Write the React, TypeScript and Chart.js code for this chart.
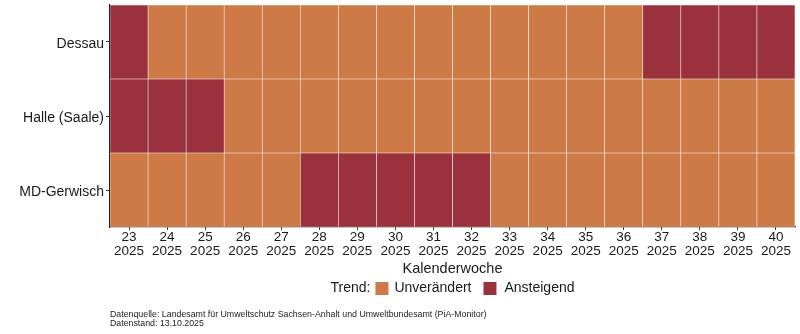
import React, { useEffect, useRef } from "react";
import { Chart, registerables } from "chart.js";

Chart.register(...registerables);

const weeks = ["23","24","25","26","27","28","29","30","31","32","33","34","35","36","37","38","39","40"];
const year = "2025";
const stations = ["MD-Gerwisch", "Halle (Saale)", "Dessau"]; // bottom to top
// 1 = Ansteigend, 0 = Unverändert
const dessau = [1,0,0,0,0,0,0,0,0,0,0,0,0,0,1,1,1,1];
const halle = [1,1,1,0,0,0,0,0,0,0,0,0,0,0,0,0,0,0];
const gerwisch = [0,0,0,0,0,1,1,1,1,1,0,0,0,0,0,0,0,0];
const trendLabels = ["Unverändert", "Ansteigend"];
const trendColors = ["#CD7A47", "#9C313E"];

const FONT = "'Liberation Sans', Arial, sans-serif";

export default function App() {
  const ref = useRef<HTMLCanvasElement>(null);
  useEffect(() => {
    const rows = [gerwisch, halle, dessau];
    const overlay = {
      id: "overlay",
      afterDraw(chart: any) {
        const ctx = chart.ctx;
        const area = chart.chartArea;
        const cx = (area.left + area.right) / 2;
        ctx.save();
        ctx.textBaseline = "middle";
        // x title
        ctx.fillStyle = "#1a1a1a";
        ctx.font = `14.5px ${FONT}`;
        ctx.textAlign = "center";
        ctx.fillText("Kalenderwoche", cx, 268.5);
        // legend
        ctx.textAlign = "left";
        ctx.font = `14px ${FONT}`;
        const parts: any[] = [{ t: "Trend:" }, { sq: trendColors[0] }, { t: trendLabels[0] }, { sq: trendColors[1] }, { t: trendLabels[1] }];
        const gapAfter = [5, 6, 12, 8, 0];
        let total = 0;
        parts.forEach((p, i) => {
          p.w = p.t ? ctx.measureText(p.t).width : 13;
          total += p.w + gapAfter[i];
        });
        let x = cx - total / 2;
        const ly = 288.5;
        parts.forEach((p, i) => {
          if (p.t) {
            ctx.fillStyle = "#1a1a1a";
            ctx.fillText(p.t, x, ly);
          } else {
            ctx.fillStyle = p.sq;
            ctx.fillRect(x, ly - 6.5, 13, 13);
          }
          x += p.w + gapAfter[i];
        });
        // caption
        ctx.font = `8.8px ${FONT}`;
        ctx.fillStyle = "#222";
        ctx.fillText("Datenquelle: Landesamt für Umweltschutz Sachsen-Anhalt und Umweltbundesamt (PiA-Monitor)", 110, 315);
        ctx.fillText("Datenstand: 13.10.2025", 110, 324);
        ctx.restore();
      },
    };
    const chart = new Chart(ref.current!, {
      type: "bar",
      data: {
        labels: weeks.map((w) => [w, year]),
        datasets: rows.map((r, i) => ({
          label: stations[i],
          data: r.map(() => 1),
          backgroundColor: r.map((v) => trendColors[v]),
          borderColor: "rgba(255,255,255,0.55)",
          borderWidth: 0.6,
          borderSkipped: false,
          categoryPercentage: 1,
          barPercentage: 1,
        })),
      },
      options: {
        animation: false,
        responsive: false,
        maintainAspectRatio: false,
        layout: { padding: { top: 5, right: 5, left: 0, bottom: 52 } },
        plugins: { legend: { display: false }, tooltip: { enabled: false } },
        scales: {
          x: {
            stacked: true,
            offset: true,
            grid: { offset: false, drawOnChartArea: false, drawTicks: true, tickLength: 3, color: "#333" },
            border: { display: true, color: "#222", width: 1.2 },
            ticks: { color: "#1a1a1a", font: { family: FONT, size: 13.5, lineHeight: 1.07 }, padding: 0, maxRotation: 0, autoSkip: false },
            afterFit: (s: any) => { s.height = 55; s.paddingLeft = 0; s.paddingRight = 0; },
          },
          y: {
            stacked: true,
            min: 0,
            max: 3,
            grid: { drawOnChartArea: false, drawTicks: true, tickLength: 4, color: "#333" },
            border: { display: true, color: "#222", width: 1.2 },
            afterBuildTicks: (s: any) => { s.ticks = [{ value: 0.5 }, { value: 1.5 }, { value: 2.5 }]; },
            ticks: {
              color: "#1a1a1a",
              font: { family: FONT, size: 14 },
              padding: 2,
              labelOffset: 2,
              callback: (v: any) => stations[Math.floor(Number(v))] ?? "",
            },
            afterFit: (s: any) => { s.width = 110; s.paddingTop = 0; s.paddingBottom = 0; },
          },
        },
      },
      plugins: [overlay],
    });
    return () => chart.destroy();
  }, []);
  return (
    <div style={{ position: "absolute", left: 0, top: 0, width: 800, height: 334, background: "#fff" }}>
      <canvas ref={ref} width={800} height={334} style={{ width: 800, height: 334 }} />
    </div>
  );
}
